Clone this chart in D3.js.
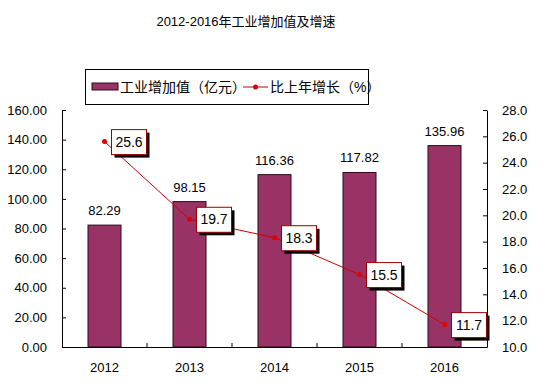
<!DOCTYPE html>
<html>
<head>
<meta charset="utf-8">
<script src="https://cdn.jsdelivr.net/npm/d3@7"></script>
<style>
  body { margin: 0; background: #fff; }
  text { font-family: Arial, "Liberation Sans", "Noto Sans CJK SC", sans-serif; fill: #000; }
</style>
</head>
<body>
<div id="chart"></div>
<script>
const years = ['2012', '2013', '2014', '2015', '2016']
const added = [82.29, 98.15, 116.36, 117.82, 135.96]
const growth = [25.6, 19.7, 18.3, 15.5, 11.7]
const leftTicks = [0, 20, 40, 60, 80, 100, 120, 140, 160]
const rightTicks = [10, 12, 14, 16, 18, 20, 22, 24, 26, 28]

const W = 550, H = 389
const m = { left: 62, right: 63, top: 110, bottom: 42 }

const svg = d3.select('#chart').append('svg')
    .attr('width', W)
    .attr('height', H)

const x = d3.scaleBand().domain(years).range([m.left, W - m.right])
const yL = d3.scaleLinear().domain([0, 160]).range([H - m.bottom, m.top])
const yR = d3.scaleLinear().domain([10, 28]).range([H - m.bottom, m.top])

// title
svg.append('text')
    .attr('x', 246).attr('y', 26)
    .attr('text-anchor', 'middle')
    .style('font-size', '13px')
    .text('2012-2016年工业增加值及增速')

// bars
const barW = 33
svg.selectAll('.bar')
    .data(added)
    .enter()
    .append('rect')
    .attr('x', (d, i) => x(years[i]) + x.bandwidth() / 2 - barW / 2)
    .attr('y', d => yL(d))
    .attr('width', barW)
    .attr('height', d => yL(0) - yL(d))
    .style('fill', '#993366')
    .style('stroke', '#2a0a18')
    .style('stroke-width', 1)

svg.selectAll('.barlabel')
    .data(added)
    .enter()
    .append('text')
    .attr('x', (d, i) => x(years[i]) + x.bandwidth() / 2)
    .attr('y', d => yL(d) - 10)
    .attr('text-anchor', 'middle')
    .style('font-size', '13px')
    .text(d => d.toFixed(2))

// axes
const axL = svg.append('g')
    .attr('transform', 'translate(' + m.left + ',0)')
    .call(d3.axisLeft(yL).tickValues(leftTicks).tickFormat(d3.format('.2f')).tickSizeInner(-4).tickSizeOuter(0).tickPadding(15))
const axR = svg.append('g')
    .attr('transform', 'translate(' + (W - m.right) + ',0)')
    .call(d3.axisRight(yR).tickValues(rightTicks).tickFormat(d3.format('.1f')).tickSizeInner(-4).tickSizeOuter(0).tickPadding(15))
const axB = svg.append('g')
    .attr('transform', 'translate(0,' + (H - m.bottom) + ')')
    .call(d3.axisBottom(x).tickSize(0).tickPadding(16))

// category boundary ticks
svg.selectAll('.sep')
    .data(years.slice(1))
    .enter()
    .append('line')
    .attr('x1', d => x(d)).attr('x2', d => x(d))
    .attr('y1', H - m.bottom).attr('y2', H - m.bottom - 4)
    .style('stroke', '#000')

;[axL, axR, axB].forEach(a => {
    a.selectAll('path, line').style('stroke', '#000')
    a.selectAll('text').style('font-size', '13px').style('font-family', 'Arial, "Liberation Sans", sans-serif')
})
axB.select('.domain').style('stroke-width', 1)

// growth line
const cx = (d, i) => x(years[i]) + x.bandwidth() / 2
const line = d3.line().x(cx).y(d => yR(d))
svg.append('path')
    .datum(growth)
    .attr('d', line)
    .style('fill', 'none')
    .style('stroke', '#cc0000')
    .style('stroke-width', 1)

svg.selectAll('.dot')
    .data(growth)
    .enter()
    .append('circle')
    .attr('cx', cx)
    .attr('cy', d => yR(d))
    .attr('r', 2.5)
    .style('fill', '#e00000')

// label boxes
const lab = svg.selectAll('.glabel')
    .data(growth)
    .enter()
    .append('g')
    .attr('transform', (d, i) => 'translate(' + (cx(d, i) + 7) + ',' + (yR(d) - 12) + ')')
lab.append('rect')
    .attr('x', 3).attr('y', 3)
    .attr('width', 35).attr('height', 25)
    .style('fill', '#000')
lab.append('rect')
    .attr('x', 0).attr('y', 0)
    .attr('width', 35).attr('height', 25)
    .style('fill', '#fff')
    .style('stroke', '#990000')
lab.append('text')
    .attr('x', 17.5).attr('y', 17)
    .attr('text-anchor', 'middle')
    .style('font-size', '14px')
    .text(d => d.toFixed(1))

// legend
const lg = svg.append('g')
svg.append('rect')
    .attr('x', 85.5).attr('y', 69.5)
    .attr('width', 283).attr('height', 35)
    .style('fill', 'none')
    .style('stroke', '#000')
svg.append('rect')
    .attr('x', 92).attr('y', 83)
    .attr('width', 26).attr('height', 7)
    .style('fill', '#993366')
    .style('stroke', '#2a0a18')
svg.append('text')
    .attr('x', 120).attr('y', 92)
    .style('font-size', '14px')
    .text('工业增加值（亿元）')
svg.append('line')
    .attr('x1', 243).attr('x2', 268)
    .attr('y1', 87).attr('y2', 87)
    .style('stroke', '#cc0000')
svg.append('circle')
    .attr('cx', 255.5).attr('cy', 87).attr('r', 2.5)
    .style('fill', '#e00000')
svg.append('text')
    .attr('x', 270).attr('y', 92)
    .style('font-size', '14px')
    .text('比上年增长（%）')
</script>
</body>
</html>
